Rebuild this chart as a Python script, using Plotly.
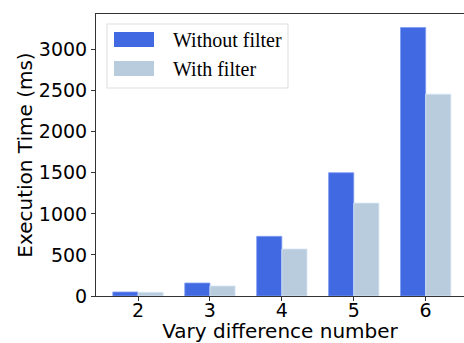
import plotly.graph_objects as go

categories = [2, 3, 4, 5, 6]
without_filter = [49, 158, 726, 1501, 3269]
with_filter = [45, 122, 572, 1131, 2457]
series_names = ["Without filter", "With filter"]
y_ticks = [0, 500, 1000, 1500, 2000, 2500, 3000]

c_blue = "#4169E1"
c_light = "#B9CCDD"

fig = go.Figure()
fig.add_trace(go.Bar(x=categories, y=without_filter, name=series_names[0],
                     marker=dict(color=c_blue, line=dict(color="#7F9CF5", width=0.8))))
fig.add_trace(go.Bar(x=categories, y=with_filter, name=series_names[1],
                     marker=dict(color=c_light, line=dict(color="#D5E6F5", width=0.8))))

# custom legend (matplotlib-like)
W, H = 464, 343
ml, mt, mb, mr = 96, 14, 47, 0
pw, ph = W - ml - mr, H - mt - mb
def px(x): return (x - ml) / pw
def py(y): return (H - mb - y) / ph

shapes = [
    dict(type="rect", xref="paper", yref="paper", x0=px(107), x1=px(288), y0=py(88), y1=py(24),
         line=dict(color="#DDDDDD", width=1), fillcolor="rgba(255,255,255,0.8)", layer="above"),
    dict(type="rect", xref="paper", yref="paper", x0=px(114), x1=px(154), y0=py(47), y1=py(32),
         line=dict(width=0), fillcolor=c_blue, layer="above"),
    dict(type="rect", xref="paper", yref="paper", x0=px(114), x1=px(154), y0=py(76), y1=py(61),
         line=dict(width=0), fillcolor=c_light, layer="above"),
]
annotations = [
    dict(xref="paper", yref="paper", x=px(171), y=py(40), text=series_names[0], showarrow=False,
         xanchor="left", yanchor="middle", font=dict(family="Liberation Serif", size=20, color="black")),
    dict(xref="paper", yref="paper", x=px(171), y=py(69), text=series_names[1], showarrow=False,
         xanchor="left", yanchor="middle", font=dict(family="Liberation Serif", size=20, color="black")),
]

fig.update_layout(
    width=W, height=H,
    margin=dict(l=ml, r=mr, t=mt, b=mb, pad=0),
    plot_bgcolor="white", paper_bgcolor="white",
    barmode="group", bargap=0.3, bargroupgap=0,
    showlegend=False,
    font=dict(family="DejaVu Sans", size=19, color="black"),
    shapes=shapes, annotations=annotations,
    xaxis=dict(range=[1.416, 6.533], tickvals=categories, ticks="outside", ticklen=4,
               tickcolor="#333", showline=True, linecolor="#333", linewidth=1, mirror=True,
               showgrid=False, zeroline=False, automargin=False, ticklabelstandoff=-7,
               tickfont=dict(size=19),
               title=dict(text="Vary difference number", standoff=0, font=dict(size=20))),
    yaxis=dict(range=[0, 3433], tickvals=y_ticks, ticks="outside", ticklen=4,
               tickcolor="#333", showline=True, linecolor="#333", linewidth=1,
               showgrid=False, zeroline=False, automargin=False,
               tickfont=dict(size=19),
               title=dict(text="Execution Time (ms)", standoff=0, font=dict(size=20))),
)

fig.write_html("out.html", config={"displayModeBar": False},
               post_script="document.body.style.margin='0';document.body.style.overflow='hidden';")
